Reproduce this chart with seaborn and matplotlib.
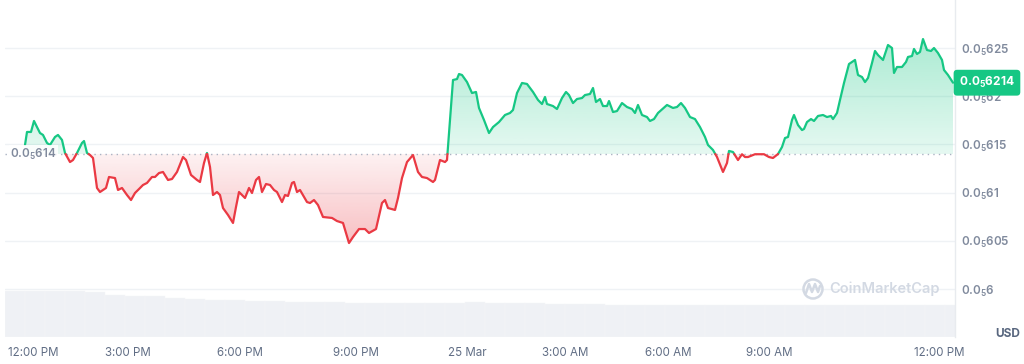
import numpy as np
import matplotlib
matplotlib.use("Agg")
import matplotlib.pyplot as plt
import matplotlib.transforms as mtransforms
from matplotlib.path import Path
from matplotlib.patches import Circle
from matplotlib.colors import to_rgb
import seaborn as sns
import pandas as pd

# ---------------- data ----------------
# minutes since start of window (24 Mar ~11:40 AM); price in micro-USD (0.0_5 xxxx)
minutes = [30, 33, 39, 43.5, 48, 52.5, 57, 63, 67.5, 75, 79.5, 85.5, 90, 97.5, 102, 108,
           115.5, 118.5, 123, 127.5, 132, 138, 142.5, 151.5, 156, 165, 169.5, 175.5, 183,
           189, 195, 201, 207, 213, 220.5, 225, 231, 237, 244.5, 250.5, 258, 267, 271.5,
           279, 288, 292.5, 298.5, 303, 307.5, 312, 318, 322.5, 327, 334.5, 342, 346.5,
           351, 360, 366, 370.5, 376.5, 381, 385.5, 391.5, 397.5, 403.5, 408, 415.5, 420,
           424.5, 430.5, 433.5, 438, 442.5, 453, 457.5, 463.5, 469.5, 477, 490.5, 498, 507,
           516, 522, 531, 540, 546, 556.5, 565.5, 570, 574.5, 585, 589.5, 595.5, 603, 612,
           619.5, 625.5, 633, 642, 645, 652.5, 660, 663, 667.5, 672, 678, 681, 685.5, 693,
           700.5, 706.5, 711, 718.5, 726, 732, 741, 750, 757.5, 762, 768, 775.5, 783, 792,
           799.5, 805.5, 810, 813, 822, 828, 835.5, 841.5, 846, 852, 858, 865.5, 870, 877.5,
           882, 886.5, 892.5, 897, 903, 906, 912, 918, 925.5, 933, 940.5, 945, 949.5, 955.5,
           963, 967.5, 973.5, 979.5, 993, 1002, 1008, 1014, 1020, 1027.5, 1035, 1042.5,
           1050, 1054.5, 1062, 1068, 1077, 1083, 1086, 1092, 1099.5, 1105.5, 1110, 1114.5,
           1125, 1138.5, 1146, 1152, 1159.5, 1165.5, 1170, 1174.5, 1180.5, 1183.5, 1189.5,
           1195.5, 1198.5, 1203, 1209, 1213.5, 1219.5, 1227, 1233, 1239, 1242, 1248, 1252.5,
           1258.5, 1266, 1275, 1279.5, 1285.5, 1290, 1294.5, 1300.5, 1305, 1309.5, 1317,
           1324.5, 1330.5, 1333.5, 1338, 1345.5, 1351.5, 1354.5, 1360.5, 1363.5, 1368,
           1372.5, 1377, 1383, 1389, 1393.5, 1399.5, 1405.5, 1408.5, 1414.5, 1422]
price = [6.1494, 6.1629, 6.1629, 6.1743, 6.1680, 6.1618, 6.1598, 6.1515, 6.1494, 6.1577,
         6.1598, 6.1546, 6.1411, 6.1317, 6.1338, 6.1411, 6.1515, 6.1535, 6.1411, 6.1390,
         6.1359, 6.1048, 6.1006, 6.1048, 6.1162, 6.1151, 6.1027, 6.1048, 6.0975, 6.0923,
         6.0996, 6.1037, 6.1079, 6.1100, 6.1162, 6.1162, 6.1203, 6.1214, 6.1131, 6.1141,
         6.1214, 6.1369, 6.1338, 6.1183, 6.1131, 6.1110, 6.1307, 6.1411, 6.1266, 6.0975,
         6.1006, 6.0975, 6.0840, 6.0768, 6.0685, 6.0851, 6.1006, 6.0944, 6.1048, 6.0996,
         6.1131, 6.1162, 6.1006, 6.1089, 6.1079, 6.1027, 6.1006, 6.0902, 6.0975, 6.0965,
         6.1100, 6.1110, 6.1006, 6.1027, 6.0902, 6.0892, 6.0923, 6.0871, 6.0747, 6.0737,
         6.0705, 6.0685, 6.0477, 6.0539, 6.0622, 6.0622, 6.0581, 6.0622, 6.0892, 6.0923,
         6.0840, 6.0820, 6.0944, 6.1151, 6.1317, 6.1390, 6.1214, 6.1162, 6.1151, 6.1110,
         6.1131, 6.1338, 6.1317, 6.1338, 6.1753, 6.2168, 6.2178, 6.2230, 6.2220, 6.2147,
         6.2033, 6.2044, 6.1878, 6.1753, 6.1618, 6.1680, 6.1732, 6.1805, 6.1826, 6.1857,
         6.2033, 6.2137, 6.2127, 6.2044, 6.1961, 6.1919, 6.1992, 6.1919, 6.1898, 6.1867,
         6.1981, 6.2044, 6.2012, 6.1929, 6.1971, 6.1981, 6.2012, 6.2023, 6.2085, 6.1940,
         6.1971, 6.1898, 6.1898, 6.1950, 6.1836, 6.1846, 6.1929, 6.1888, 6.1867, 6.1826,
         6.1909, 6.1805, 6.1784, 6.1743, 6.1763, 6.1826, 6.1909, 6.1878, 6.1888, 6.1929,
         6.1878, 6.1784, 6.1763, 6.1680, 6.1577, 6.1494, 6.1442, 6.1369, 6.1214, 6.1307,
         6.1432, 6.1421, 6.1338, 6.1398, 6.1369, 6.1369, 6.1398, 6.1398, 6.1369, 6.1359,
         6.1400, 6.1473, 6.1566, 6.1577, 6.1753, 6.1805, 6.1701, 6.1649, 6.1660, 6.1732,
         6.1763, 6.1743, 6.1795, 6.1805, 6.1784, 6.1795, 6.1763, 6.1826, 6.1961, 6.2137,
         6.2334, 6.2376, 6.2220, 6.2199, 6.2147, 6.2189, 6.2344, 6.2469, 6.2427, 6.2376,
         6.2531, 6.2500, 6.2241, 6.2303, 6.2303, 6.2355, 6.2407, 6.2417, 6.2490, 6.2438,
         6.2459, 6.2593, 6.2479, 6.2469, 6.2500, 6.2448, 6.2376, 6.2272, 6.2220, 6.2140]

vol_minutes = [0, 30, 60, 90, 120, 150, 180, 210, 240, 270, 300, 330, 360, 390, 420, 450,
               480, 510, 540, 570, 600, 630, 660, 690, 720, 750, 780, 810, 840, 870, 900,
               930, 960, 990, 1020, 1050, 1080, 1110, 1140, 1170, 1200, 1230, 1260, 1290,
               1320, 1350, 1380, 1410]
volume = [46, 46, 46, 46, 45, 42, 41.5, 41, 39.5, 38.5, 37.5, 37, 36.5, 36, 35.5, 35,
          34.7, 34.5, 34.3, 34, 34, 34, 34.5, 35, 34.5, 34, 33.8, 33.5, 33.3, 33, 32.5,
          32, 31.7, 31.7, 31.7, 31.7, 31.8, 32, 32.3, 32.5, 32.5, 32, 32, 32, 32, 32, 32, 32]

baseline = 6.14
last_price = 6.214
y_ticks = [6.0, 6.05, 6.1, 6.15, 6.2, 6.25]
x_tick_minutes = [42, 184.5, 352.5, 526.5, 693, 840, 994.5, 1146, 1401]
x_tick_labels = ["12:00 PM", "3:00 PM", "6:00 PM", "9:00 PM", "25 Mar",
                 "3:00 AM", "6:00 AM", "9:00 AM", "12:00 PM"]

GREEN = "#16c784"
RED = "#ea3943"
GRID = "#eff2f5"
LABEL = "#808a9d"
XLABEL = "#616e85"

# ---------------- style ----------------
sns.set_theme(style="white")
plt.rcParams["font.family"] = ["Inter", "DejaVu Sans"]
plt.rcParams["mathtext.default"] = "regular"


def fmt_price(v):
    s = f"{v:.4f}".rstrip("0").rstrip(".")
    return r"0.0$_{5}$" + s.replace(".", "")


fig = plt.figure(figsize=(10.24, 3.64), dpi=100)
ax = fig.add_axes([5 / 1024, 27 / 364, 950 / 1024, 337 / 364])
ax.set_facecolor("none")
XMAX = 1425
YLIM = (5.9502, 6.2998)

# ---- split series at baseline crossings ----
t = np.asarray(minutes, float)
p = np.asarray(price, float)
xs, ys = [t[0]], [p[0]]
for i in range(len(t) - 1):
    a, b = p[i] - baseline, p[i + 1] - baseline
    if a * b < 0:
        xs.append(t[i] + (t[i + 1] - t[i]) * a / (a - b))
        ys.append(baseline)
    xs.append(t[i + 1])
    ys.append(p[i + 1])
xs = np.array(xs)
ys = np.array(ys)


def runs(mask):
    out, cur = [], []
    for i, m in enumerate(mask):
        if m:
            cur.append(i)
        else:
            if len(cur) > 1:
                out.append(cur)
            cur = []
    if len(cur) > 1:
        out.append(cur)
    return out


def gradient_fill(mask, color, a_base, a_far, far):
    poly = ax.fill_between(xs, ys, baseline, where=mask, interpolate=False,
                           facecolor="none", edgecolor="none")
    paths = poly.get_paths()
    if not paths:
        return
    clip = Path.make_compound_path(*paths)
    n = 256
    grad = np.linspace(0, 1, n)
    rgb = to_rgb(color)
    img = np.zeros((n, 1, 4))
    img[:, 0, :3] = rgb
    if far > baseline:
        img[:, 0, 3] = a_base + (a_far - a_base) * grad
        ext = [0, XMAX, baseline, far]
    else:
        img[:, 0, 3] = a_far + (a_base - a_far) * grad
        ext = [0, XMAX, far, baseline]
    im = ax.imshow(img, extent=ext, origin="lower", aspect="auto", zorder=1,
                   interpolation="bilinear")
    im.set_clip_path(clip, transform=ax.transData)


gradient_fill(ys >= baseline, GREEN, 0.11, 0.36, p.max())
gradient_fill(ys <= baseline, RED, 0.07, 0.32, p.min())

df = pd.DataFrame({"minute": xs, "price": ys})
for idx in runs(ys >= baseline):
    sns.lineplot(data=df.iloc[idx], x="minute", y="price", color=GREEN, lw=1.6,
                 ax=ax, sort=False, estimator=None, zorder=4)
for idx in runs(ys <= baseline):
    sns.lineplot(data=df.iloc[idx], x="minute", y="price", color=RED, lw=1.6,
                 ax=ax, sort=False, estimator=None, zorder=4)

ax.axhline(baseline, color="#aab3c3", ls=(0, (1, 3)), lw=1, zorder=3)

# ---- volume on twin axis ----
ax2 = ax.twinx()
ax2.bar(vol_minutes, volume, width=30, align="edge", color="#eff1f5",
        edgecolor="#f5f6f8", linewidth=0.3, zorder=1)
ax2.set_ylim(0, 337)
ax2.set_yticks([])
for s in ax2.spines.values():
    s.set_visible(False)
ax2.set_zorder(ax.get_zorder() - 1)
ax.patch.set_visible(False)

# ---- axes cosmetics ----
ax.set_xlim(0, XMAX)
ax.set_ylim(*YLIM)
ax2.set_xlim(0, XMAX)
ax.set_xlabel("")
ax.set_ylabel("")
ax.set_yticks(y_ticks, [fmt_price(v) for v in y_ticks])
ax.yaxis.tick_right()
ax.set_xticks(x_tick_minutes, x_tick_labels)
ax.tick_params(axis="y", length=0, pad=4, labelsize=8.4, labelcolor=LABEL)
ax.tick_params(axis="x", length=0, pad=7, labelsize=8.3, labelcolor=XLABEL)
for lab in ax.get_yticklabels():
    lab.set_fontweight("semibold")
ax.grid(axis="y", color=GRID, lw=1)
ax.grid(axis="x", visible=False)
for side in ["left", "top", "bottom"]:
    ax.spines[side].set_visible(False)
ax.spines["right"].set_color("#e8ebef")
ax.spines["right"].set_linewidth(1)

# ---- baseline label on left ----
ax.text(8, baseline, fmt_price(baseline), ha="left", va="center", fontsize=8.4,
        color=LABEL, fontweight="semibold", zorder=6,
        bbox=dict(boxstyle="square,pad=0.15", fc="white", ec="none", alpha=0.85))

# ---- current price tag ----
trans = mtransforms.blended_transform_factory(ax.transAxes, ax.transData)
ax.text(1.0 + 4 / 950, last_price, fmt_price(last_price), transform=trans,
        ha="left", va="center", fontsize=8.6, color="white", fontweight="bold",
        clip_on=False, zorder=10,
        bbox=dict(boxstyle="round,pad=0.45,rounding_size=0.3", fc=GREEN, ec="none"))

# ---- USD label ----
fig.text(1008 / 1024, 1 - 334 / 364, "USD", ha="center", va="center", fontsize=8.5,
         color="#58667e", fontweight="bold")

# ---- watermark ----
wm = "#d3d9e3"
fig.text(829 / 1024, 1 - 289 / 364, "CoinMarketCap", ha="left", va="center",
         fontsize=10.5, color=wm, fontweight="semibold")
ident = mtransforms.IdentityTransform()
fig.patches.append(Circle((813, 364 - 289), 9.5, transform=ident, fill=False,
                          ec=wm, lw=1.8))
fig.lines.append(plt.Line2D([806, 809, 812, 815, 818, 820],
                            [364 - 293, 364 - 284, 364 - 292, 364 - 284, 364 - 292,
                             364 - 286], transform=ident, color=wm, lw=1.8))

fig.savefig("out.png", dpi=100)
